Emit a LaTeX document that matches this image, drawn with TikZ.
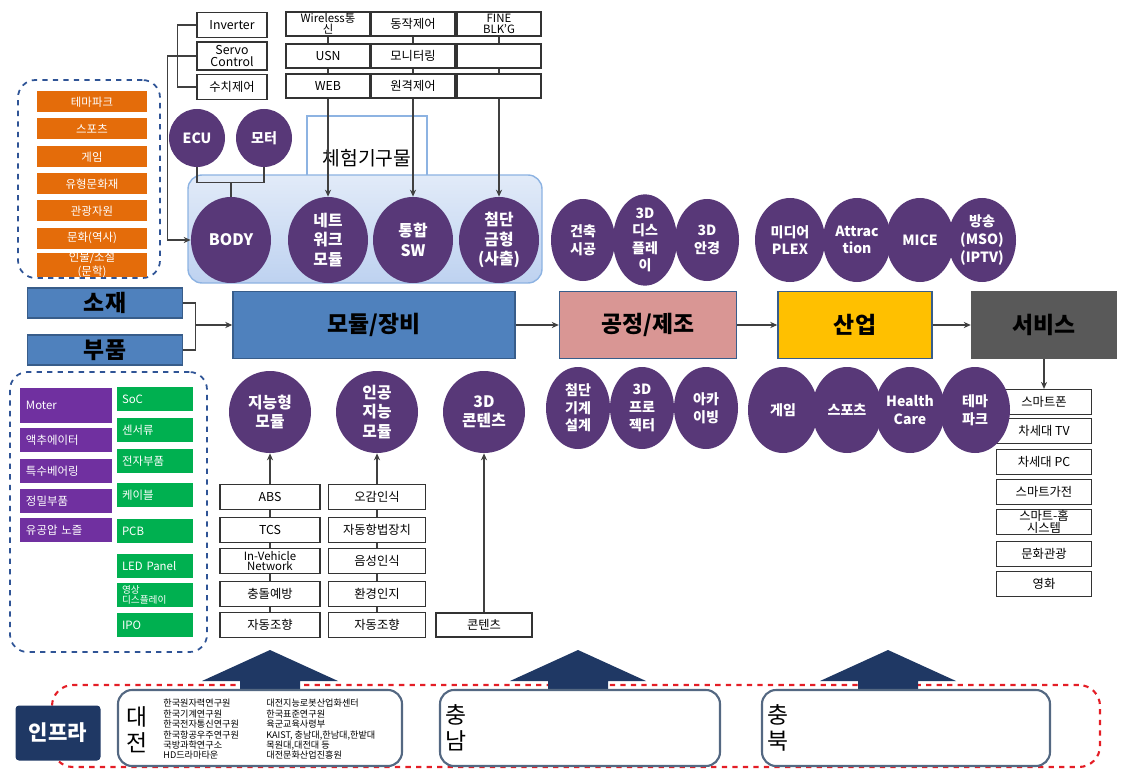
\documentclass[tikz,border=0pt]{standalone}
\usepackage{fontspec}
\setmainfont{Noto Sans CJK KR}
\usetikzlibrary{arrows.meta,shapes.geometric}
\definecolor{ballpurple}{RGB}{88,56,120}
\definecolor{stageblue}{RGB}{79,129,189}
\definecolor{stageedge}{RGB}{56,93,138}
\definecolor{procpink}{RGB}{217,150,148}
\definecolor{indyellow}{RGB}{255,192,0}
\definecolor{svcgray}{RGB}{89,89,89}
\definecolor{tagorange}{RGB}{228,108,10}
\definecolor{tagpurple}{RGB}{112,48,160}
\definecolor{taggreen}{RGB}{0,176,80}
\definecolor{infranavy}{RGB}{31,56,100}
\definecolor{dashblue}{RGB}{47,84,150}
\definecolor{dashred}{RGB}{228,30,38}
\definecolor{panelblue}{RGB}{190,210,240}
\definecolor{paneledge}{RGB}{141,179,226}
\definecolor{regionedge}{RGB}{84,104,130}
\tikzset{
  sz/.style 2 args={minimum width=#1*0.02cm, minimum height=#2*0.02cm},
  stage/.style={draw=stageedge, line width=0.8pt, inner sep=0pt, font=\bfseries\fontsize{13}{14}\selectfont},
  ball/.style={ellipse, fill=ballpurple, text=white, inner sep=0pt, align=center, font=\bfseries\fontsize{8}{10}\selectfont},
  bigball/.style={ball, font=\bfseries\fontsize{9}{11}\selectfont},
  cell/.style={draw=black!80, line width=0.7pt, fill=white, inner sep=0pt, align=center, font=\fontsize{7}{6.5}\selectfont},
  tag/.style={inner sep=0pt, text=white, align=center, font=\fontsize{6.5}{6}\selectfont},
  sidetag/.style={tag, align=left, text width=80*0.02cm, inner xsep=6*0.02cm, minimum height=24*0.02cm},
  grp/.style={draw=dashblue, dashed, line width=1pt, rounded corners=10pt},
  region/.style={draw=regionedge, line width=1.2pt, fill=white, rounded corners=8pt},
  link/.style={draw=black!75, line width=0.6pt},
  feed/.style={link, -{Stealth[length=4pt,width=3.5pt]}},
}
\begin{document}
\begin{tikzpicture}[x=0.02cm, y=-0.02cm]
\useasboundingbox (0,0) rectangle (1125,770);

% culture list
\node[grp, sz={142}{198}] (culturegrp) at (89,179) {};
\node[tag, fill=tagorange, sz={110}{21}] (cult1) at (92,102) {테마파크};
\node[tag, fill=tagorange, sz={110}{21}] (cult2) at (92,129) {스포츠};
\node[tag, fill=tagorange, sz={110}{21}] (cult3) at (92,157) {게임};
\node[tag, fill=tagorange, sz={110}{21}] (cult4) at (92,184) {유형문화재};
\node[tag, fill=tagorange, sz={110}{21}] (cult5) at (92,211) {관광자원};
\node[tag, fill=tagorange, sz={110}{21}] (cult6) at (92,238) {문화(역사)};
\node[tag, fill=tagorange, sz={110}{21}] (cult7) at (92,265) {인물/소설\\(문학)};

% control boxes
\node[cell, sz={70}{25}] (inv) at (232,25) {Inverter};
\node[cell, sz={70}{28}] (servo) at (232,56) {Servo\\Control};
\node[cell, sz={70}{25}] (numctl) at (232,87) {수치제어};
\node[cell, sz={84}{24}, font=\fontsize{6.5}{6}\selectfont] (wls) at (328,24) {Wireless통\\신};
\node[cell, sz={84}{24}] (usn) at (328,56) {USN};
\node[cell, sz={84}{24}] (web) at (328,86) {WEB};
\node[cell, sz={84}{24}] (actctl) at (413,24) {동작제어};
\node[cell, sz={84}{24}] (monit) at (413,56) {모니터링};
\node[cell, sz={84}{24}] (remote) at (413,86) {원격제어};
\node[cell, sz={84}{24}, font=\fontsize{6.5}{6}\selectfont] (fine) at (499,24) {FINE\\BLK'G};
\node[cell, sz={84}{24}] (blank1) at (499,56) {};
\node[cell, sz={84}{24}] (blank2) at (499,86) {};
\draw[link] (wls) -- (usn) -- (web);
\draw[link] (actctl) -- (monit) -- (remote);
\draw[link] (fine) -- (blank1) -- (blank2);
\draw[link] (inv.west) -- ++(-19,0) |- (numctl.west);

% panel
\node[draw=paneledge, line width=0.8pt, fill=white, sz={120}{84}, font=\fontsize{11}{12}\selectfont] (exptag) at (367,158) {체험기구물};
\node[draw=paneledge, line width=0.8pt, rounded corners=8pt, top color=panelblue!45, bottom color=panelblue, sz={354}{108}] (panel) at (365,229) {};
\node[ball, sz={56}{58}] (ecu) at (197,138) {ECU};
\node[ball, sz={56}{58}] (motor) at (264,138) {모터};
\node[bigball, sz={80}{86}] (body) at (231,240) {BODY};
\node[bigball, sz={80}{86}] (netmod) at (328,240) {네트\\워크\\모듈};
\node[bigball, sz={80}{86}] (intsw) at (413,240) {통합\\SW};
\node[bigball, sz={80}{86}] (mold) at (499,240) {첨단\\금형\\(사출)};
\draw[link] (ecu.south) -- ++(0,15) -| (motor.south);
\draw[link] (ecu.south) ++(0,15) -| (body.north);
\draw[feed] (servo.west) -- ++(-29,0) |- (body.west);
\draw[feed] (web) -- (netmod);
\draw[feed] (remote) -- (intsw);
\draw[feed] (blank2) -- (mold);

\node[ball, sz={64}{82}] (arch) at (583,240) {건축\\시공};
\node[ball, sz={64}{82}] (disp3d) at (645,240) {3D\\디스\\플레\\이};
\node[ball, sz={64}{82}] (glass3d) at (707,240) {3D\\안경};
\node[ball, sz={70}{84}] (mplex) at (790,240) {미디어\\PLEX};
\node[ball, sz={68}{84}] (attr) at (857,240) {Attrac\\tion};
\node[ball, sz={68}{84}] (mice) at (920,240) {MICE};
\node[ball, sz={68}{84}] (broad) at (982,240) {방송\\(MSO)\\(IPTV)};

% value chain
\node[stage, fill=stageblue, sz={155}{30}] (sojae) at (105,303) {소재};
\node[stage, fill=stageblue, sz={155}{30}] (bupum) at (105,350) {부품};
\node[stage, fill=stageblue, sz={282}{67}] (module) at (374,325) {모듈/장비};
\node[stage, fill=procpink, sz={177}{67}] (process) at (648,325) {공정/제조};
\node[stage, fill=indyellow, sz={154}{67}] (industry) at (855,325) {산업};
\node[stage, fill=svcgray, draw=svcgray, sz={145}{67}] (service) at (1044,325) {서비스};
\coordinate (merge) at (195,325);
\draw[link] (sojae.east) -- ++(12,0) |- (bupum.east);
\draw[feed] (merge) -- (module.west);
\draw[feed] (module) -- (process);
\draw[feed] (process) -- (industry);
\draw[feed] (industry) -- (service);

% services
\node[cell, sz={95}{25}] (phone) at (1044,402) {스마트폰};
\node[cell, sz={95}{25}] (nexttv) at (1044,431) {차세대 TV};
\node[cell, sz={95}{25}] (nextpc) at (1044,462) {차세대 PC};
\node[cell, sz={95}{25}] (smartapp) at (1044,492) {스마트가전};
\node[cell, sz={95}{25}] (smarthome) at (1044,522) {스마트-홈\\시스템};
\node[cell, sz={95}{25}] (culture) at (1044,554) {문화관광};
\node[cell, sz={95}{25}] (movie) at (1044,584) {영화};
\draw[feed] (service) -- (phone);

% lower circles
\node[bigball, sz={82}{82}] (smartmod) at (270,412) {지능형\\모듈};
\node[bigball, sz={82}{82}] (aimod) at (377,412) {인공\\지능\\모듈};
\node[bigball, sz={82}{82}] (cont3d) at (484,412) {3D\\콘텐츠};
\node[ball, sz={64}{82}] (cad) at (578,408) {첨단\\기계\\설계};
\node[ball, sz={64}{82}] (proj3d) at (642,408) {3D\\프로\\젝터};
\node[ball, sz={64}{82}] (archive) at (706,408) {아카\\이빙};
\node[ball, sz={70}{86}] (game) at (783,410) {게임};
\node[ball, sz={70}{86}] (sports) at (847,410) {스포츠};
\node[ball, sz={70}{86}] (health) at (910,410) {Health\\Care};
\node[ball, sz={70}{86}] (themepark) at (975,410) {테마\\파크};

% function lists
\node[cell, sz={100}{25}] (abs) at (270,497) {ABS};
\node[cell, sz={100}{25}] (tcs) at (270,530) {TCS};
\node[cell, sz={100}{25}, font=\fontsize{6.5}{5.5}\selectfont] (ivn) at (270,561) {In-Vehicle\\Network};
\node[cell, sz={100}{25}] (collide) at (270,594) {충돌예방};
\node[cell, sz={100}{25}] (steera) at (270,625) {자동조향};
\node[cell, sz={97}{25}] (sense5) at (377,497) {오감인식};
\node[cell, sz={97}{25}] (autonav) at (377,530) {자동항법장치};
\node[cell, sz={97}{25}] (voice) at (377,561) {음성인식};
\node[cell, sz={97}{25}] (envrec) at (377,594) {환경인지};
\node[cell, sz={97}{25}] (steerb) at (377,625) {자동조향};
\node[cell, sz={96}{24}] (content) at (484,625) {콘텐츠};
\draw[link] (abs) -- (tcs) -- (ivn) -- (collide) -- (steera);
\draw[link] (sense5) -- (autonav) -- (voice) -- (envrec) -- (steerb);
\draw[feed] (abs) -- (smartmod);
\draw[feed] (sense5) -- (aimod);
\draw[feed] (content) -- (cont3d);

% parts list
\node[grp, sz={197}{280}] (partgrp) at (108.5,512) {};
\node[sidetag, fill=tagpurple, minimum height=35*0.02cm] (moter) at (66,405) {Moter};
\node[sidetag, fill=tagpurple] (actuator) at (66,440) {액추에이터};
\node[sidetag, fill=tagpurple] (bearing) at (66,471) {특수베어링};
\node[sidetag, fill=tagpurple] (precise) at (66,501) {정밀부품};
\node[sidetag, fill=tagpurple] (nozzle) at (66,530) {유공압 노즐};
\node[sidetag, fill=taggreen, text width=66*0.02cm, inner xsep=5*0.02cm] (soc) at (155,399) {SoC};
\node[sidetag, fill=taggreen, text width=66*0.02cm, inner xsep=5*0.02cm] (sensor) at (155,430) {센서류};
\node[sidetag, fill=taggreen, text width=66*0.02cm, inner xsep=5*0.02cm] (elec) at (155,461) {전자부품};
\node[sidetag, fill=taggreen, text width=66*0.02cm, inner xsep=5*0.02cm] (cable) at (155,495) {케이블};
\node[sidetag, fill=taggreen, text width=66*0.02cm, inner xsep=5*0.02cm] (pcb) at (155,531) {PCB};
\node[sidetag, fill=taggreen, text width=66*0.02cm, inner xsep=5*0.02cm] (ledpanel) at (155,566) {LED Panel};
\node[sidetag, fill=taggreen, text width=66*0.02cm, inner xsep=5*0.02cm, font=\fontsize{5.5}{5.5}\selectfont] (display) at (155,595) {영상\\디스플레이};
\node[sidetag, fill=taggreen, text width=66*0.02cm, inner xsep=5*0.02cm] (ipo) at (155,625) {IPO};

% infra
\node[draw=dashred, dashed, line width=1.2pt, rounded corners=12pt, sz={1048}{82}] (infragrp) at (576,726) {};
\foreach \ax in {270,578,888}
  \fill[infranavy] (\ax,650) -- (\ax+68,681) -- (\ax+30,681) -- (\ax+30,696)
    -- (\ax-30,696) -- (\ax-30,681) -- (\ax-68,681) -- cycle;
\node[fill=infranavy, text=white, rounded corners=2pt, sz={85}{55}, font=\bfseries\fontsize{12}{12}\selectfont] (infra) at (58,733) {인프라};
\node[region, sz={284}{76}] (daejeon) at (260,728) {};
\node[region, sz={280}{76}] (chungnam) at (580,728) {};
\node[region, sz={288}{76}] (chungbuk) at (906,728) {};
\node[align=center, inner sep=0pt, font=\fontsize{13}{15}\selectfont] (djname) at (137,730) {대\\전};
\node[align=center, inner sep=0pt, font=\fontsize{13}{15}\selectfont] (cnname) at (456,728) {충\\남};
\node[align=center, inner sep=0pt, font=\fontsize{13}{15}\selectfont] (cbname) at (778,728) {충\\북};
\node[anchor=north west, align=left, inner sep=0pt, font=\fontsize{5.2}{5.9}\selectfont] (djlab) at (163,699)
  {한국원자력연구원\\한국기계연구원\\한국전자통신연구원\\한국항공우주연구원\\국방과학연구소\\HD드라마타운};
\node[anchor=north west, align=left, inner sep=0pt, font=\fontsize{5.2}{5.9}\selectfont] (djedu) at (266,699)
  {대전지능로봇산업화센터\\한국표준연구원\\육군교육사령부\\KAIST, 충남대,한남대,한밭대\\목원대,대전대 등\\대전문화산업진흥원};
\end{tikzpicture}
\end{document}
